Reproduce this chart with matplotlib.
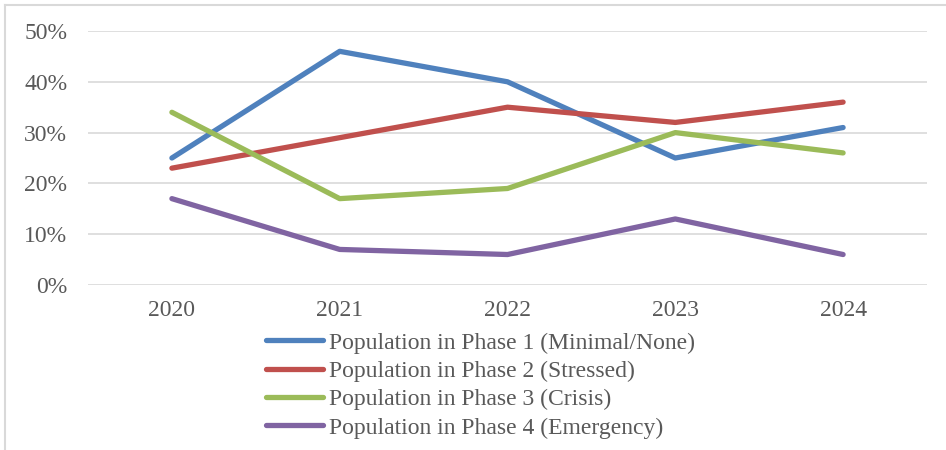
import matplotlib
matplotlib.use("Agg")
import matplotlib.pyplot as plt
from matplotlib.lines import Line2D
from matplotlib.ticker import PercentFormatter

years = ["2020", "2021", "2022", "2023", "2024"]
phase1 = [25, 46, 40, 25, 31]
phase2 = [23, 29, 35, 32, 36]
phase3 = [34, 17, 19, 30, 26]
phase4 = [17, 7, 6, 13, 6]

labels = [
    "Population in Phase 1 (Minimal/None)",
    "Population in Phase 2 (Stressed)",
    "Population in Phase 3 (Crisis)",
    "Population in Phase 4 (Emergency)",
]
colors = ["#4F81BD", "#C0504D", "#9BBB59", "#8064A2"]

plt.rcParams["font.family"] = ["Liberation Serif", "DejaVu Serif"]
text_color = "#595959"
fs = 17

fig = plt.figure(figsize=(9.46, 4.5), dpi=100)
ax = fig.add_axes([88 / 946, 1 - 285 / 450, (927 - 88) / 946, (285 - 31) / 450])

x = range(len(years))
for vals, lab, col in zip([phase1, phase2, phase3, phase4], labels, colors):
    ax.plot(x, vals, color=col, lw=3.8, label=lab, solid_capstyle="round")

ax.set_xlim(-0.5, len(years) - 0.5)
ax.set_ylim(0, 50)
ax.set_yticks(range(0, 51, 10))
ax.yaxis.set_major_formatter(PercentFormatter(decimals=0))
ax.set_xticks(list(x))
ax.set_xticklabels(years)
ax.grid(axis="y", color="#D9D9D9", lw=1.2)
ax.set_axisbelow(True)
for s in ax.spines.values():
    s.set_visible(False)
ax.tick_params(length=0, labelsize=fs, colors=text_color)
ax.tick_params(axis="y", pad=15)
ax.tick_params(axis="x", pad=11)

handles = [Line2D([0], [0], color=c, lw=3.8, solid_capstyle="round") for c in colors]
leg = fig.legend(handles, labels, loc="upper left",
                 bbox_to_anchor=(266 / 946, 1 - 332 / 450),
                 frameon=False, fontsize=fs, handlelength=2.4,
                 handletextpad=0.25, labelspacing=0.29, borderpad=0,
                 borderaxespad=0)
for t in leg.get_texts():
    t.set_color(text_color)

# chart frame
fig.add_artist(Line2D([5 / 946, 5 / 946], [0, 1 - 5 / 450], color="#D9D9D9", lw=1.5,
                      transform=fig.transFigure))
fig.add_artist(Line2D([5 / 946, 1], [1 - 5 / 450, 1 - 5 / 450], color="#D9D9D9", lw=1.5,
                      transform=fig.transFigure))

fig.savefig("out.png", dpi=100)
